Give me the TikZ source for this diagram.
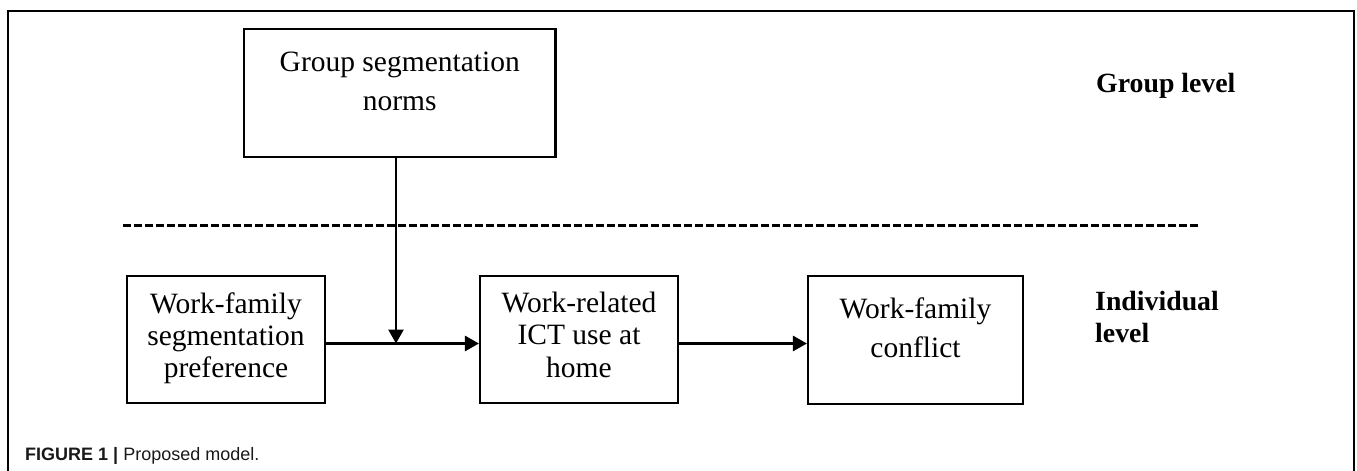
\documentclass[tikz,border=0pt]{standalone}
\usepackage{fontspec}
\setmainfont{Liberation Serif}
\newfontfamily\capfont{Liberation Sans}
\usetikzlibrary{arrows.meta}
\begin{document}
\begin{tikzpicture}[x=1pt,y=-1pt,
  box/.style={draw, line width=2.1pt, inner sep=0pt},
  boxtext/.style={align=center, anchor=base, inner sep=0pt},
  conn/.style={line width=2.8pt, -{Triangle[length=14pt,width=15pt]}},
  lvl/.style={align=left, anchor=base west, inner sep=0pt, font=\fontsize{27.8}{32}\selectfont\bfseries}
]
\useasboundingbox (0,0) rectangle (1357,471);
\clip (0,0) rectangle (1357,471);
% frame
\draw[line width=1.5pt] (8,480) -- (8,11) -- (1354,11) -- (1354,480);
% boxes
\node[box, minimum width=311.5pt, minimum height=127.7pt] (g) at (399.75,93.15) {};
\node[boxtext, font=\fontsize{29.5}{39}\selectfont] (gt) at (399.75,110) {Group segmentation\\norms};
\node[box, minimum width=198pt, minimum height=127pt] (b1) at (226,339.5) {};
\node[boxtext, font=\fontsize{29.5}{32}\selectfont] (b1t) at (226,377) {Work-family\\segmentation\\preference};
\node[box, minimum width=198pt, minimum height=127pt] (b2) at (579,339.5) {};
\node[boxtext, font=\fontsize{29.5}{32.5}\selectfont] (b2t) at (579,377) {Work-related\\ICT use at\\home};
\node[box, minimum width=215pt, minimum height=128pt] (b3) at (915.5,340) {};
\node[boxtext, font=\fontsize{29.5}{39}\selectfont] (b3t) at (915.5,357) {Work-family\\conflict};
% levels
\node[lvl] (gl) at (1096,92) {Group level};
\node[lvl] (il) at (1095,342) {Individual\\level};
% dashed separator
\coordinate (dl) at (123,225.7);
\coordinate (dr) at (1198,225.7);
\draw[line width=2.5pt, dash pattern=on 7.5pt off 3.5pt] (dl) -- (dr);
% connectors
\coordinate (j) at (396,343.5);
\draw[conn] (b1.east |- j) -- (b2.west |- j);
\draw[conn] (g.south -| j) -- (j);
\draw[conn] (b2.east |- j) -- (b3.west |- j);
% caption
\node[anchor=base west, inner sep=0pt, font=\capfont\fontsize{18}{22}\selectfont, text=black!90] (cap) at (25,460) {\textbf{FIGURE 1 |} Proposed model.};
\end{tikzpicture}
\end{document}
